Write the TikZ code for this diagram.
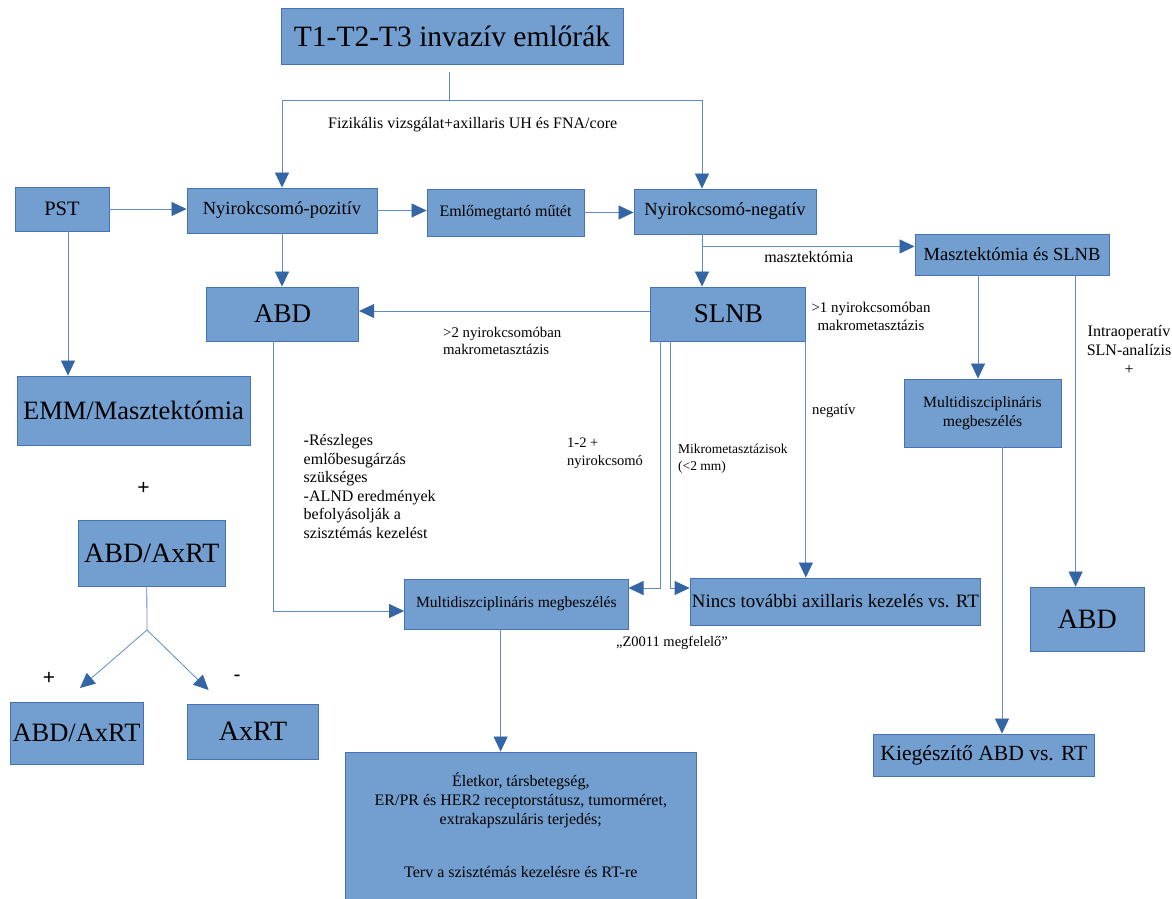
\documentclass[tikz,border=0pt]{standalone}
\usepackage{fontspec}
\setmainfont{Liberation Serif}
\setsansfont{Liberation Sans}
\usetikzlibrary{arrows.meta}
\definecolor{boxfill}{RGB}{114,159,207}
\definecolor{boxline}{RGB}{68,114,180}
\definecolor{linkblue}{RGB}{96,138,200}
\definecolor{tipblue}{RGB}{52,101,164}
\newcommand{\fsz}[2]{\fontsize{#1}{#2}\selectfont}

\begin{document}
\begin{tikzpicture}[x=1pt, y=-1pt,
  box/.style={draw=boxline, line width=0.9pt, fill=boxfill, inner sep=0pt, align=center},
  lbl/.style={inner sep=0pt, align=left},
  sign/.style={inner sep=0pt, font=\sffamily\fsz{21}{24}},
  link/.style={draw=linkblue, line width=0.8pt},
  arr/.style={link, -{Triangle[length=15pt, width=14pt, color=tipblue]}}
]
\useasboundingbox (0,0) rectangle (1172,898);

% Top
\node[box, minimum width=342pt, minimum height=56pt, font=\fsz{29.5}{34}] (top) at (452,36) {T1-T2-T3 invazív emlőrák};

% Row 1: nodal status
\node[box, minimum width=94pt, minimum height=44pt, font=\fsz{20.5}{24}] (pst) at (62,209) {PST};
\node[box, minimum width=190pt, minimum height=45pt, font=\fsz{18.5}{22}] (npos) at (282,210.5) {Nyirokcsomó-pozitív};
\node[box, minimum width=157pt, minimum height=47pt, font=\fsz{16}{19}] (bcs) at (505.5,212.5) {Emlőmegtartó műtét};
\node[box, minimum width=182pt, minimum height=45pt, font=\fsz{18.5}{22}] (nneg) at (725,211.5) {Nyirokcsomó-negatív};
\node[box, minimum width=194pt, minimum height=41pt, font=\fsz{18.5}{22}] (mslnb) at (1012,254.5) {Masztektómia és SLNB};

% Row 2
\node[box, minimum width=152pt, minimum height=54pt, font=\fsz{27}{31}] (abdleft) at (282.7,314) {ABD};
\node[box, minimum width=155pt, minimum height=54pt, font=\fsz{27}{31}] (slnb) at (728.4,314) {SLNB};
\node[box, minimum width=157pt, minimum height=68pt, font=\fsz{15.7}{19}] (mdtright) at (982.5,413) {Multidiszciplináris\\megbeszélés};

% Left column (after PST)
\node[box, minimum width=233pt, minimum height=69pt, font=\fsz{26.5}{30}] (emm) at (133.5,410.5) {EMM/Masztektómia};
\node[box, minimum width=146.5pt, minimum height=66pt, font=\fsz{28}{32}] (abdaxrt) at (151.8,553) {ABD/AxRT};
\node[box, minimum width=133pt, minimum height=62pt, font=\fsz{26.5}{30}] (abdaxplus) at (76.5,733) {ABD/AxRT};
\node[box, minimum width=131pt, minimum height=55pt, font=\fsz{28}{32}] (axrt) at (253,731.5) {AxRT};

% Lower row
\node[box, minimum width=223.5pt, minimum height=50pt, font=\fsz{15.6}{19}] (mdtmid) at (516.3,604) {Multidiszciplináris megbeszélés};
\node[box, minimum width=290.7pt, minimum height=47pt, font=\fsz{18.9}{22}] (nincs) at (835.4,601.5) {Nincs további axillaris kezelés vs. RT};
\node[box, minimum width=114.5pt, minimum height=64pt, font=\fsz{28}{32}] (abdright) at (1087.3,619) {ABD};
\node[box, minimum width=221.7pt, minimum height=42pt, font=\fsz{21.6}{25}] (kieg) at (983.9,755) {Kiegészítő ABD vs. RT};
\node[box, minimum width=350.4pt, minimum height=147pt, font=\fsz{16}{19}] (plan) at (520.8,825.5) {Életkor, társbetegség,\\ER/PR és HER2 receptorstátusz, tumorméret,\\extrakapszuláris terjedés;\\[33.7pt]Terv a szisztémás kezelésre és RT-re};

% Labels
\node[lbl, font=\fsz{16}{19}] (lfiz) at (472.7,125) {Fizikális vizsgálat+axillaris UH és FNA/core};
\node[lbl, font=\fsz{16}{19}] (lmaszt) at (808.7,257) {masztektómia};
\node[lbl, anchor=west, font=\fsz{14.8}{17}] (lgttwo) at (443,340.5) {>2 nyirokcsomóban\\makrometasztázis};
\node[lbl, align=center, font=\fsz{14.9}{18}] (lgtone) at (871,316) {>1 nyirokcsomóban\\makrometasztázis};
\node[lbl, align=center, font=\fsz{16}{19}] (lintra) at (1129,350) {Intraoperatív\\SLN-analízis\\+};
\node[lbl, anchor=west, font=\fsz{16}{18.6}] (lreszl) at (303.5,486.5) {-Részleges\\emlőbesugárzás\\szükséges\\-ALND eredmények\\befolyásolják a\\szisztémás kezelést};
\node[lbl, anchor=west, font=\fsz{14.5}{18}] (lonetwo) at (567,453) {1-2 +\\nyirokcsomó};
\node[lbl, anchor=west, font=\fsz{13.5}{17}] (lmikro) at (678,458.5) {Mikrometasztázisok\\(<2 mm)};
\node[lbl, anchor=west, font=\fsz{14.7}{18}] (lneg) at (812,411) {negatív};
\node[lbl, font=\fsz{14.5}{18}] (lzoo) at (672,643) {„Z0011 megfelelő”};
\node[sign] (plusa) at (143.5,488) {+};
\node[sign] (plusb) at (49,678) {+};
\node[sign] (minus) at (237,678) {-};

% Connectors
\coordinate (fork) at (449,100);
\draw[link] ([xshift=-3pt,yshift=-8pt]top.south) -- (fork);
\draw[arr] (fork) -| (npos.north);
\draw[arr] (fork) -| ([xshift=-23pt]nneg.north);
\draw[arr] (pst.east) -- (pst.east -| npos.west);
\draw[arr] (npos.east) -- (npos.east -| bcs.west);
\draw[arr] (bcs.east) -- (bcs.east -| nneg.west);
\draw[arr] ([xshift=6pt]pst.south) -- ([xshift=6pt]pst.south |- emm.north);
\draw[arr] (npos.south) -- (npos.south |- abdleft.north);
\draw[arr] ([xshift=-23pt]nneg.south) -- ([xshift=-23pt]nneg.south |- slnb.north);
\coordinate (mbranch) at ([xshift=-23pt,yshift=-12pt]nneg.south);
\draw[arr] (mbranch) -- (mbranch -| mslnb.west);
\draw[arr] ([yshift=3pt]slnb.west) -- ([yshift=3pt]slnb.west -| abdleft.east);
\draw[arr] ([xshift=-9pt]abdleft.south) |- ([yshift=-7pt]mdtmid.west);
\draw[arr] ([xshift=-68pt]slnb.south) |- ([yshift=16pt]mdtmid.east);
\draw[arr] ([xshift=-58pt]slnb.south) |- ([yshift=13.5pt]nincs.west);
\draw[arr] ([xshift=-0.5pt]slnb.south east) -- ([xshift=-0.5pt]slnb.south east |- nincs.north);
\draw[arr] ([xshift=-34pt]mslnb.south) -- ([xshift=-34pt]mslnb.south |- mdtright.north);
\draw[arr] ([xshift=63.6pt]mslnb.south) -- ([xshift=63.6pt]mslnb.south |- abdright.north);
\draw[arr] ([xshift=19.5pt]mdtright.south) -- ([xshift=19.5pt]mdtright.south |- kieg.north);
\draw[arr] ([xshift=-15.7pt]mdtmid.south) -- ([xshift=-15.7pt]mdtmid.south |- plan.north);
\coordinate (split) at (147,630);
\coordinate (endplus) at (80,688);
\coordinate (endminus) at (208.6,690);
\draw[link] ([xshift=-5pt]abdaxrt.south) -- (split);
\draw[arr] (split) -- (endplus);
\draw[arr] (split) -- (endminus);
\end{tikzpicture}
\end{document}
